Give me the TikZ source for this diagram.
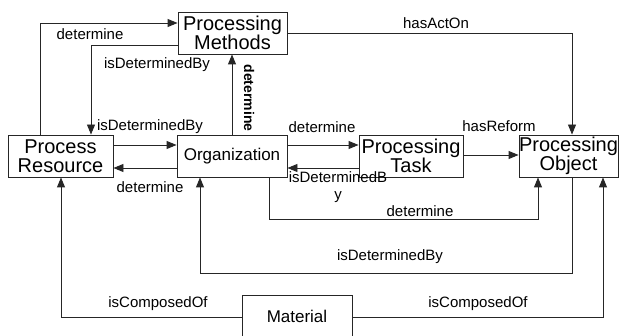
\documentclass[tikz,border=0pt]{standalone}
\usepackage{fontspec}
\setmainfont{Liberation Sans}
\usetikzlibrary{arrows.meta}
\tikzset{
  box/.style={draw=black!85, line width=0.9pt, fill=white, inner sep=0pt,
    align=center, font=\fontsize{20}{18.5}\selectfont},
  smallbox/.style={box, font=\fontsize{17}{19}\selectfont},
  link/.style={draw=black!85, line width=0.9pt,
    -{Triangle[length=10pt,width=8pt]}},
  lbl/.style={font=\fontsize{15}{17}\selectfont, inner sep=0pt},
}
\begin{document}
\begin{tikzpicture}[x=1pt,y=-1pt]
\useasboundingbox (0,0) rectangle (620,336);

% concept boxes
\node[box, minimum width=109pt, minimum height=42pt] (PM) at (232.5,33) {Processing\\Methods};
\node[box, minimum width=105pt, minimum height=42pt] (PR) at (60.5,156) {Process\\Resource};
\node[smallbox, minimum width=110pt, minimum height=42pt] (Org) at (232,156) {Organization};
\node[box, minimum width=104pt, minimum height=42pt] (PT) at (411,156) {Processing\\Task};
\node[box, minimum width=99pt, minimum height=42pt] (PO) at (568.5,156) {Processing\\Object};
\node[smallbox, minimum width=110pt, minimum height=46pt, text depth=4pt] (Mat) at (297,318) {Material};

% Process Resource <-> Processing Methods
\draw[link] (PR.north -| 40,0) |- (PM.west |- 0,23);
\node[lbl] (l1) at (90,34) {determine};
\draw[link] (PM.west |- 0,45) -| (PR.north -| 91,0);
\node[lbl] (l2) at (157,65) {isDeterminedBy};

% Organization -> Processing Methods
\draw[link] (Org.north -| 232,0) -- (PM.south -| 232,0);
\node[lbl, font=\fontsize{14}{16}\selectfont\bfseries, rotate=-90] (l3) at (249,98) {determine};

% Process Resource <-> Organization
\draw[link] (PR.east |- 0,145) -- (Org.west |- 0,145);
\node[lbl] (l4) at (150,127) {isDeterminedBy};
\draw[link] (Org.west |- 0,168) -- (PR.east |- 0,168);
\node[lbl] (l5) at (150,187) {determine};

% Organization <-> Processing Task
\draw[link] (Org.east |- 0,145) -- (PT.west |- 0,145);
\node[lbl] (l6) at (322,127) {determine};
\draw[link] (PT.west |- 0,168) -- (Org.east |- 0,168);
\node[lbl, align=center, font=\fontsize{15}{17}\selectfont] (l7) at (338,187) {isDeterminedB\\y};

% Processing Task -> Processing Object
\draw[link] (PT.east |- 0,155) -- (PO.west |- 0,155);
\node[lbl] (l8) at (499,126) {hasReform};

% Processing Methods -> Processing Object
\draw[link] (PM.east |- 0,33) -| (PO.north -| 572,0);
\node[lbl] (l9) at (436,23) {hasActOn};

% Organization -> Processing Object
\draw[link] (Org.south -| 269,0) |- (538,219) -- (PO.south -| 538,0);
\node[lbl] (l10) at (420,211) {determine};

% Processing Object -> Organization
\draw[link] (PO.south -| 572,0) |- (200,273) -- (Org.south -| 200,0);
\node[lbl] (l11) at (390,257) {isDeterminedBy};

% Material composition
\draw[link] (Mat.west |- 0,317) -| (PR.south -| 61,0);
\node[lbl] (l12) at (158,304) {isComposedOf};
\draw[link] (Mat.east |- 0,317) -| (PO.south -| 603,0);
\node[lbl] (l13) at (478,304) {isComposedOf};
\end{tikzpicture}
\end{document}
